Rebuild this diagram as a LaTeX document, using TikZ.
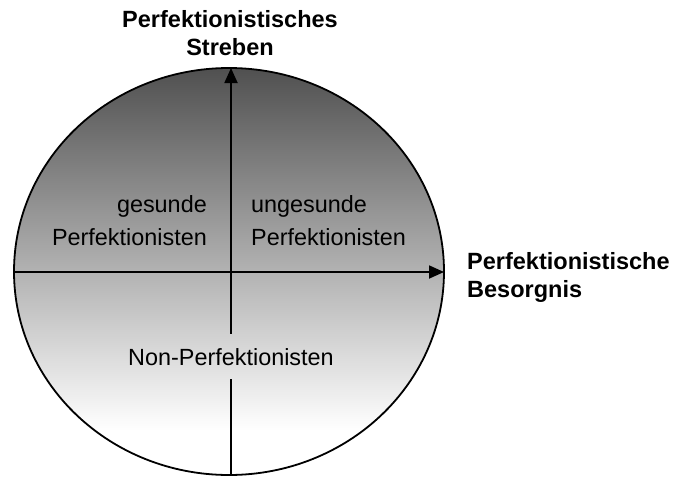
\documentclass[tikz,border=0pt]{standalone}
\usepackage{fontspec}
\setmainfont{Liberation Sans}
\usetikzlibrary{arrows.meta}
\definecolor{discdark}{RGB}{80,80,80}
% dark at the top, fading to white a little above the bottom of the disc
\pgfdeclareverticalshading{discshade}{100bp}{color(0bp)=(white); color(30.5bp)=(white); color(75bp)=(discdark); color(100bp)=(discdark)}
\begin{document}
\begin{tikzpicture}[x=1pt,y=-1pt,
  axis/.style={line width=1.8pt},
  axisarrow/.style={axis,-{Triangle[length=15pt,width=13pt]}},
  lbl/.style={inner sep=0pt,font=\fontsize{23.4}{33}\selectfont},
  title/.style={inner sep=0pt,font=\fontsize{23.5}{27.5}\selectfont\bfseries},
]
\useasboundingbox (0,0) rectangle (675,477);

% shaded disc
\shadedraw[shading=discshade, line width=1.8pt] (229,271.5) ellipse [x radius=215, y radius=203.5];

% axis end points
\coordinate (W) at (14,272);
\coordinate (E) at (444,272);
\coordinate (N) at (231,68);
\coordinate (S) at (231,475);

% group in the lower half, sitting on the vertical axis
\node[lbl, inner ysep=14pt, anchor=base] (np) at (231,365) {Non-Perfektionisten};

% axes
\draw[axisarrow] (W) -- (E);
\draw[axis] (S) -- (np);
\draw[axisarrow] (np) -- (N);

% quadrant labels (base anchor = baseline of the last line)
\node[lbl, anchor=base east, align=right] (gp) at (207,245) {gesunde\\Perfektionisten};
\node[lbl, anchor=base west, align=left] (up) at (251,245) {ungesunde\\Perfektionisten};

% axis titles
\node[title, anchor=base, align=center] (ys) at (230,55) {Perfektionistisches\\Streben};
\node[title, anchor=base west, align=left] (xs) at (467,297) {Perfektionistische\\Besorgnis};
\end{tikzpicture}
\end{document}
